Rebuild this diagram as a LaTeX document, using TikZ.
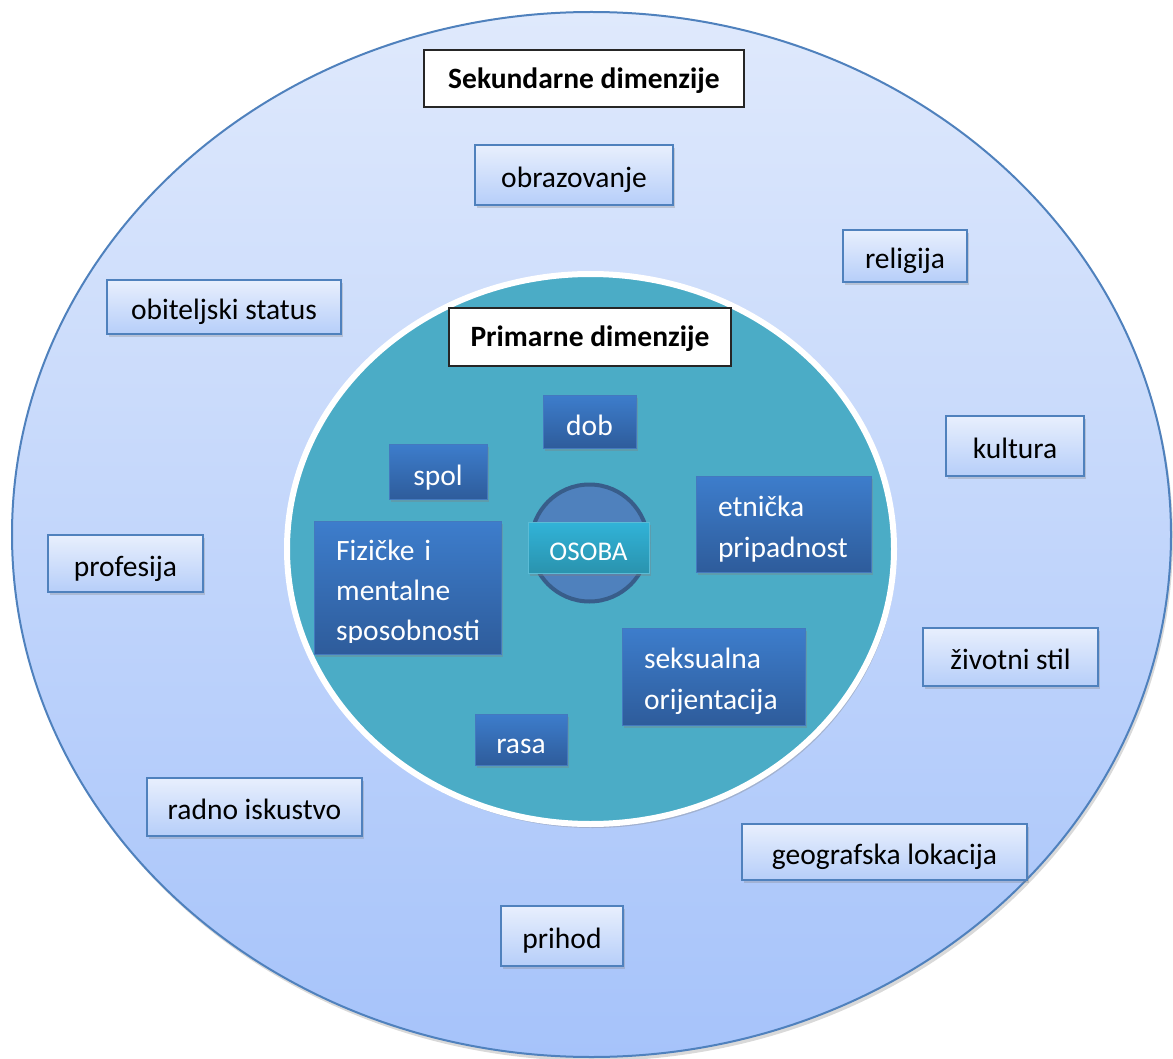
\documentclass[tikz,border=0pt]{standalone}
\usepackage{fontspec}
\setmainfont{Carlito}
\usetikzlibrary{shadows,shapes.geometric}
\definecolor{outtop}{HTML}{DFE9FC}
\definecolor{outbot}{HTML}{A6C3FA}
\definecolor{bordblue}{HTML}{4F81BD}
\definecolor{oboxtop}{HTML}{E8EFFD}
\definecolor{oboxbot}{HTML}{B6CEF9}
\definecolor{teal}{HTML}{4BACC6}
\definecolor{iboxtop}{HTML}{3D7DCC}
\definecolor{iboxbot}{HTML}{2E5C9B}
\definecolor{iboxline}{HTML}{4479BE}
\definecolor{circfill}{HTML}{4F81BD}
\definecolor{circline}{HTML}{385D8A}
\definecolor{osotop}{HTML}{31B3D8}
\definecolor{osobot}{HTML}{2A93AE}
\definecolor{osoline}{HTML}{5BBCD6}
\begin{document}
\begin{tikzpicture}[x=1pt,y=-1pt,
  txt/.style={font=\fontsize{29.5}{41}\selectfont},
  obox/.style={txt, draw=bordblue, line width=1.6pt, top color=oboxtop, bottom color=oboxbot,
    inner sep=0pt, text=black, text height=30pt, text depth=5pt,
    drop shadow={shadow xshift=2pt, shadow yshift=-3pt, opacity=0.3}},
  tbox/.style={draw=black!85, line width=1.2pt, fill=white, inner sep=0pt,
    text height=28pt, text depth=8pt, font=\fontsize{29.5}{41}\selectfont\bfseries},
  ibox/.style={txt, draw=iboxline, line width=1pt, top color=iboxtop, bottom color=iboxbot,
    inner sep=0pt, text=white,
    drop shadow={shadow xshift=2pt, shadow yshift=-3pt, opacity=0.35}},
  sbox/.style={ibox, text height=30pt, text depth=3pt},
  mbox/.style={ibox, align=left, inner xsep=22pt, inner ysep=0pt},
  itext/.style={font=\fontsize{29.5}{40}\selectfont, text=white, inner sep=0pt, align=left}]
\useasboundingbox (0,0) rectangle (1173,1059);
% outer ellipse
\node[ellipse, draw=bordblue, line width=2pt, top color=outtop, bottom color=outbot,
  minimum width=1159pt, minimum height=1045pt, inner sep=0pt,
  drop shadow={shadow xshift=2pt, shadow yshift=-4pt, opacity=0.3}] (outer) at (591.5,534.5) {};
% inner ellipse
\node[ellipse, draw=white, line width=6pt, fill=teal,
  minimum width=607pt, minimum height=550pt, inner sep=0pt,
  drop shadow={shadow xshift=2pt, shadow yshift=-4pt, opacity=0.35}] (inner) at (590.5,549) {};
% title boxes
\node[tbox, minimum width=320pt, minimum height=57pt] (sek) at (584,78.5) {Sekundarne dimenzije};
\node[tbox, minimum width=282pt, minimum height=58pt] (prim) at (590,337) {Primarne dimenzije};
% secondary dimensions
\node[obox, minimum width=198pt, minimum height=60pt] (obr) at (574,175) {obrazovanje};
\node[obox, minimum width=124pt, minimum height=52pt] (rel) at (905,256) {religija};
\node[obox, minimum width=234pt, minimum height=54pt] (obit) at (224,307) {obiteljski status};
\node[obox, minimum width=138pt, minimum height=60pt] (kult) at (1015,446) {kultura};
\node[obox, minimum width=155pt, minimum height=57pt] (prof) at (125.5,563.5) {profesija};
\node[obox, minimum width=175pt, minimum height=58pt] (ziv) at (1010.5,657) {životni stil};
\node[obox, minimum width=215pt, minimum height=58pt] (radno) at (254.5,807) {radno iskustvo};
\node[obox, minimum width=285pt, minimum height=56pt] (geo) at (884.5,852) {geografska lokacija};
\node[obox, minimum width=122pt, minimum height=60pt] (prihod) at (562,936) {prihod};
% primary dimensions
\node[sbox, minimum width=93pt, minimum height=53pt] (dob) at (589.5,421.5) {dob};
\node[sbox, minimum width=98pt, minimum height=55pt] (spol) at (438,471.5) {spol};
\node[ibox, minimum width=187pt, minimum height=133pt] (fiz) at (407.5,587.5) {};
\begin{scope}
  \clip (315,522) rectangle (500,642);
  \node[itext, text width=150pt, anchor=base west] (fiztext) at (336,560) {Fizičke i\\mentalne\\sposobnosti};
\end{scope}
\node[mbox, text width=131pt, minimum height=96pt] (etn) at (783.5,524) {\rule{0pt}{30pt}etnička\\pripadnost};
\node[mbox, text width=139pt, minimum height=97pt] (seks) at (713.5,676.5) {\rule{0pt}{30pt}seksualna\\orijentacija};
\node[sbox, minimum width=92pt, minimum height=51pt] (rasa) at (521,739.5) {rasa};
% centre
\node[circle, fill=circfill, draw=circline, line width=4pt, minimum size=117pt, inner sep=0pt] (osobacirc) at (589.5,543) {};
\node[draw=osoline, line width=1pt, top color=osotop, bottom color=osobot, text=white,
  font=\fontsize{27}{30}\selectfont, text height=28pt, text depth=2pt,
  minimum width=121pt, minimum height=51pt, inner sep=0pt,
  drop shadow={shadow xshift=2pt, shadow yshift=-3pt, opacity=0.35}] (osoba) at (588.5,547.5) {OSOBA};
\end{tikzpicture}
\end{document}
